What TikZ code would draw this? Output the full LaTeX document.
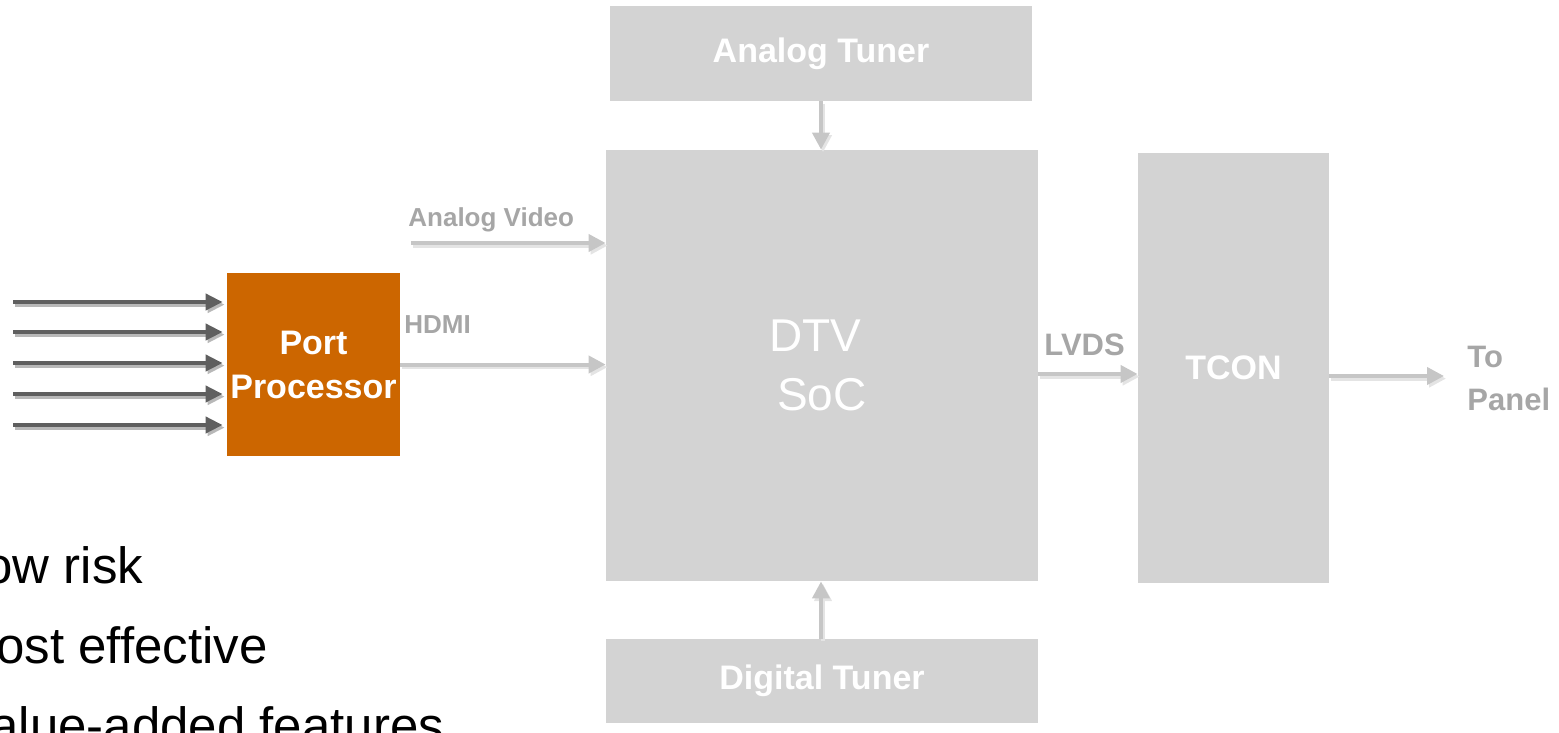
\documentclass[tikz,border=0pt]{standalone}
\usepackage{fontspec}
\setmainfont{Liberation Sans}
\usetikzlibrary{arrows.meta}

\definecolor{boxgray}{HTML}{D3D3D3}
\definecolor{portorange}{HTML}{CC6600}
\definecolor{labgray}{HTML}{A6A6A6}
\definecolor{linegray}{HTML}{C6C6C6}
\definecolor{shadegray}{HTML}{E4E4E4}
\definecolor{darkline}{HTML}{5F5F5F}
\definecolor{darkshade}{HTML}{B8B8B8}

\tikzset{
	block/.style={fill=boxgray, text=white, inner sep=0pt, align=center, font=\bfseries\fontsize{17}{22}\selectfont},
	lab/.style={text=labgray, inner sep=0pt, anchor=base west, font=\bfseries\fontsize{13}{16}\selectfont},
	biglab/.style={lab, font=\bfseries\fontsize{15.5}{21.5}\selectfont},
	bullettext/.style={inner sep=0pt, anchor=base west, font=\fontsize{25.5}{30}\selectfont},
	feed/.style={line width=2pt, draw=linegray, -{Triangle[length=8.5pt,width=8.5pt]},
		preaction={draw=shadegray, line width=2pt, -{Triangle[length=8.5pt,width=8.5pt]}, transform canvas={shift={(1pt,-1.3pt)}}}},
	infeed/.style={line width=2pt, draw=darkline, -{Triangle[length=8.5pt,width=8pt]}, shorten >=2pt,
		preaction={draw=darkshade, line width=2pt, -{Triangle[length=8.5pt,width=8pt]}, shorten >=2pt, transform canvas={shift={(1pt,-1.3pt)}}}}
}

\begin{document}
\begin{tikzpicture}[x=0.5pt, y=-0.5pt]
		%%%%% START %%%%%
		\useasboundingbox (0,0) rectangle (1559,733);
		\clip (0,0) rectangle (1559,733);
		
		% blocks
		\node[block, minimum width=211pt, minimum height=47.5pt] (atuner) at (821,53.5) {Analog Tuner};
		\node[block, minimum width=216pt, minimum height=215.5pt, font=\fontsize{23}{29.5}\selectfont] (soc) at (822,365.5) {DTV\hspace*{7pt}\\SoC};
		\node[block, minimum width=95.5pt, minimum height=215pt] (tcon) at (1233.5,368) {TCON};
		\node[block, minimum width=216pt, minimum height=42pt] (dtuner) at (822,681) {Digital Tuner};
		\node[block, fill=portorange, minimum width=86.5pt, minimum height=91.5pt] (port) at (313.5,364.5) {Port\\Processor};
		
		% inputs into the port processor
		\foreach \y [count=\i] in {302,332,363,394,425}
			\draw[infeed] (13,\y) coordinate (in\i) -- (in\i -| port.west);
		
		% links
		\coordinate (avin) at (411,243);
		\draw[feed] (avin) -- (avin -| soc.west);
		\draw[feed] (port.east) -- (port.east -| soc.west);
		\draw[feed] (atuner.south) -- (atuner.south |- soc.north);
		\draw[feed] (dtuner.north -| atuner.south) -- (atuner.south |- soc.south);
		\coordinate (lvds) at (1038,374);
		\draw[feed] (soc.east |- lvds) -- (tcon.west |- lvds);
		\coordinate (panel) at (1444,376);
		\draw[feed] (tcon.east |- panel) -- (panel);
		
		% labels
		\node[lab] (avlab) at (408,227) {Analog Video};
		\node[lab] (hdmilab) at (404,333) {HDMI};
		\node[biglab] (lvdslab) at (1044,355) {LVDS};
		\node[biglab] (tolab) at (1467,367) {To};
		\node[biglab] (panellab) at (1467,410) {Panel};
		
		% list, cut at the edge
		\node[bullettext] (risk) at (-16,583) {ow risk};
		\node[bullettext] (cost) at (-4,663) {ost effective};
		\node[bullettext] (value) at (-10,743) {alue-added features};
		
		%%%%% END %%%%%
	\end{tikzpicture}
\end{document}
